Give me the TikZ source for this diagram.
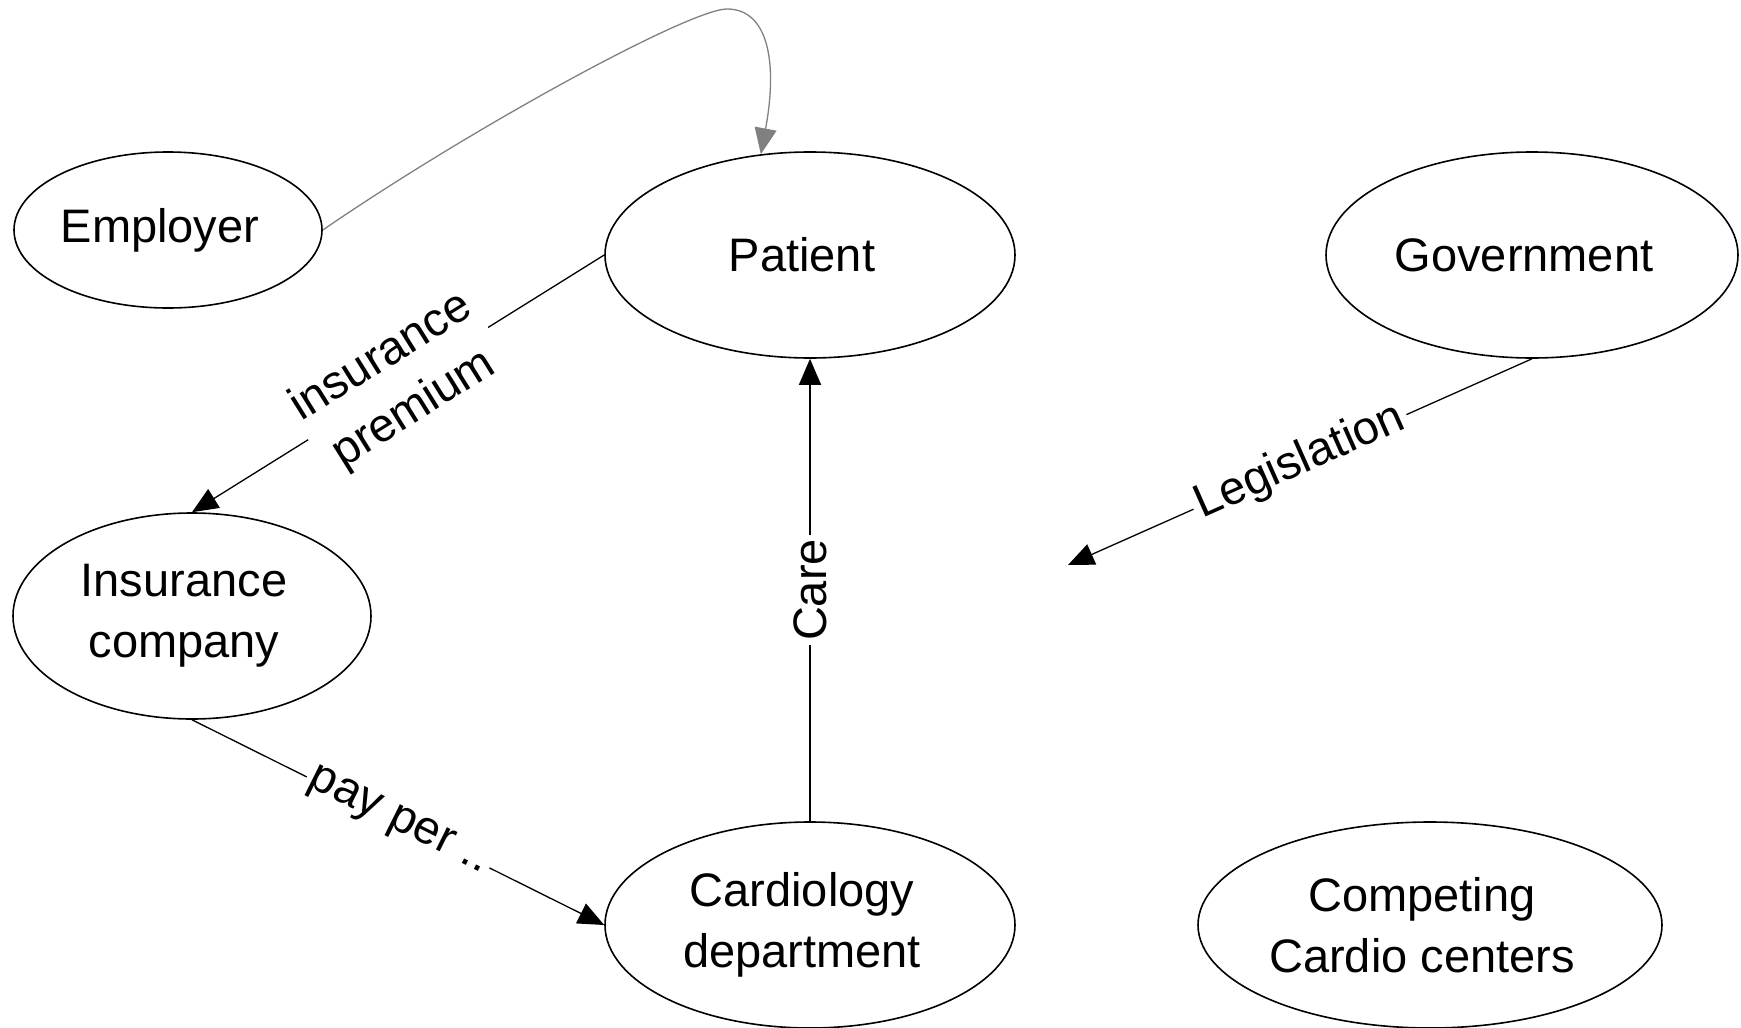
\documentclass[tikz,border=0pt]{standalone}
\usepackage{fontspec}
\setmainfont{Liberation Sans}
\usetikzlibrary{arrows.meta,shapes.geometric}

% trailing blank that nudges centred ellipse text a little to the left
\newcommand{\rpad}{\rule{16pt}{0pt}}

\tikzset{
  actor/.style={draw=black, line width=1.6pt, ellipse, inner sep=0pt,
    align=center, font=\fontsize{47}{61}\selectfont},
  flow/.style={draw=black, line width=1.3pt,
    -{Triangle[length=26pt,width=22pt]}},
  softflow/.style={draw=black!50, line width=1.3pt,
    -{Triangle[length=26pt,width=22pt]}},
  tag/.style={fill=white, inner sep=4pt, sloped, align=center,
    font=\fontsize{47}{61}\selectfont}
}

\begin{document}
\begin{tikzpicture}[x=1pt, y=-1pt]
  \useasboundingbox (0,0) rectangle (1741,1028);

  % stakeholders
  \node[actor, minimum width=308pt, minimum height=156pt] (emp)  at (168,230)  {Employer\rpad};
  \node[actor, minimum width=410pt, minimum height=206pt] (pat)  at (810,255)  {Patient\rpad};
  \node[actor, minimum width=412pt, minimum height=206pt] (gov)  at (1532,255) {Government\rpad};
  \node[actor, minimum width=358pt, minimum height=206pt] (ins)  at (192,616)  {Insurance\rpad\\company\rpad};
  \node[actor, minimum width=410pt, minimum height=206pt] (card) at (810,925)  {Cardiology\rpad\\department\rpad};
  \node[actor, minimum width=464pt, minimum height=206pt] (comp) at (1430,925) {Competing\rpad\\Cardio centers\rpad};

  % free end of the legislation arrow
  \coordinate (law) at (1068,565);

  % employer pays towards the patient
  \draw[softflow] (emp.east) .. controls (473,127) and (690,9) .. (727,9)
                  .. controls (768,9) and (778,62) .. (pat.116);

  % money and care flows
  \draw[flow] (pat.west) -- node[tag] {insurance\\premium} (ins.north);
  \draw[flow] (ins.south) -- node[tag] {pay per ..} (card.west);
  \draw[flow] (card.north) -- node[tag] {Care} (pat.south);
  \draw[flow] (gov.south) -- node[tag] {Legislation} (law);
\end{tikzpicture}
\end{document}
